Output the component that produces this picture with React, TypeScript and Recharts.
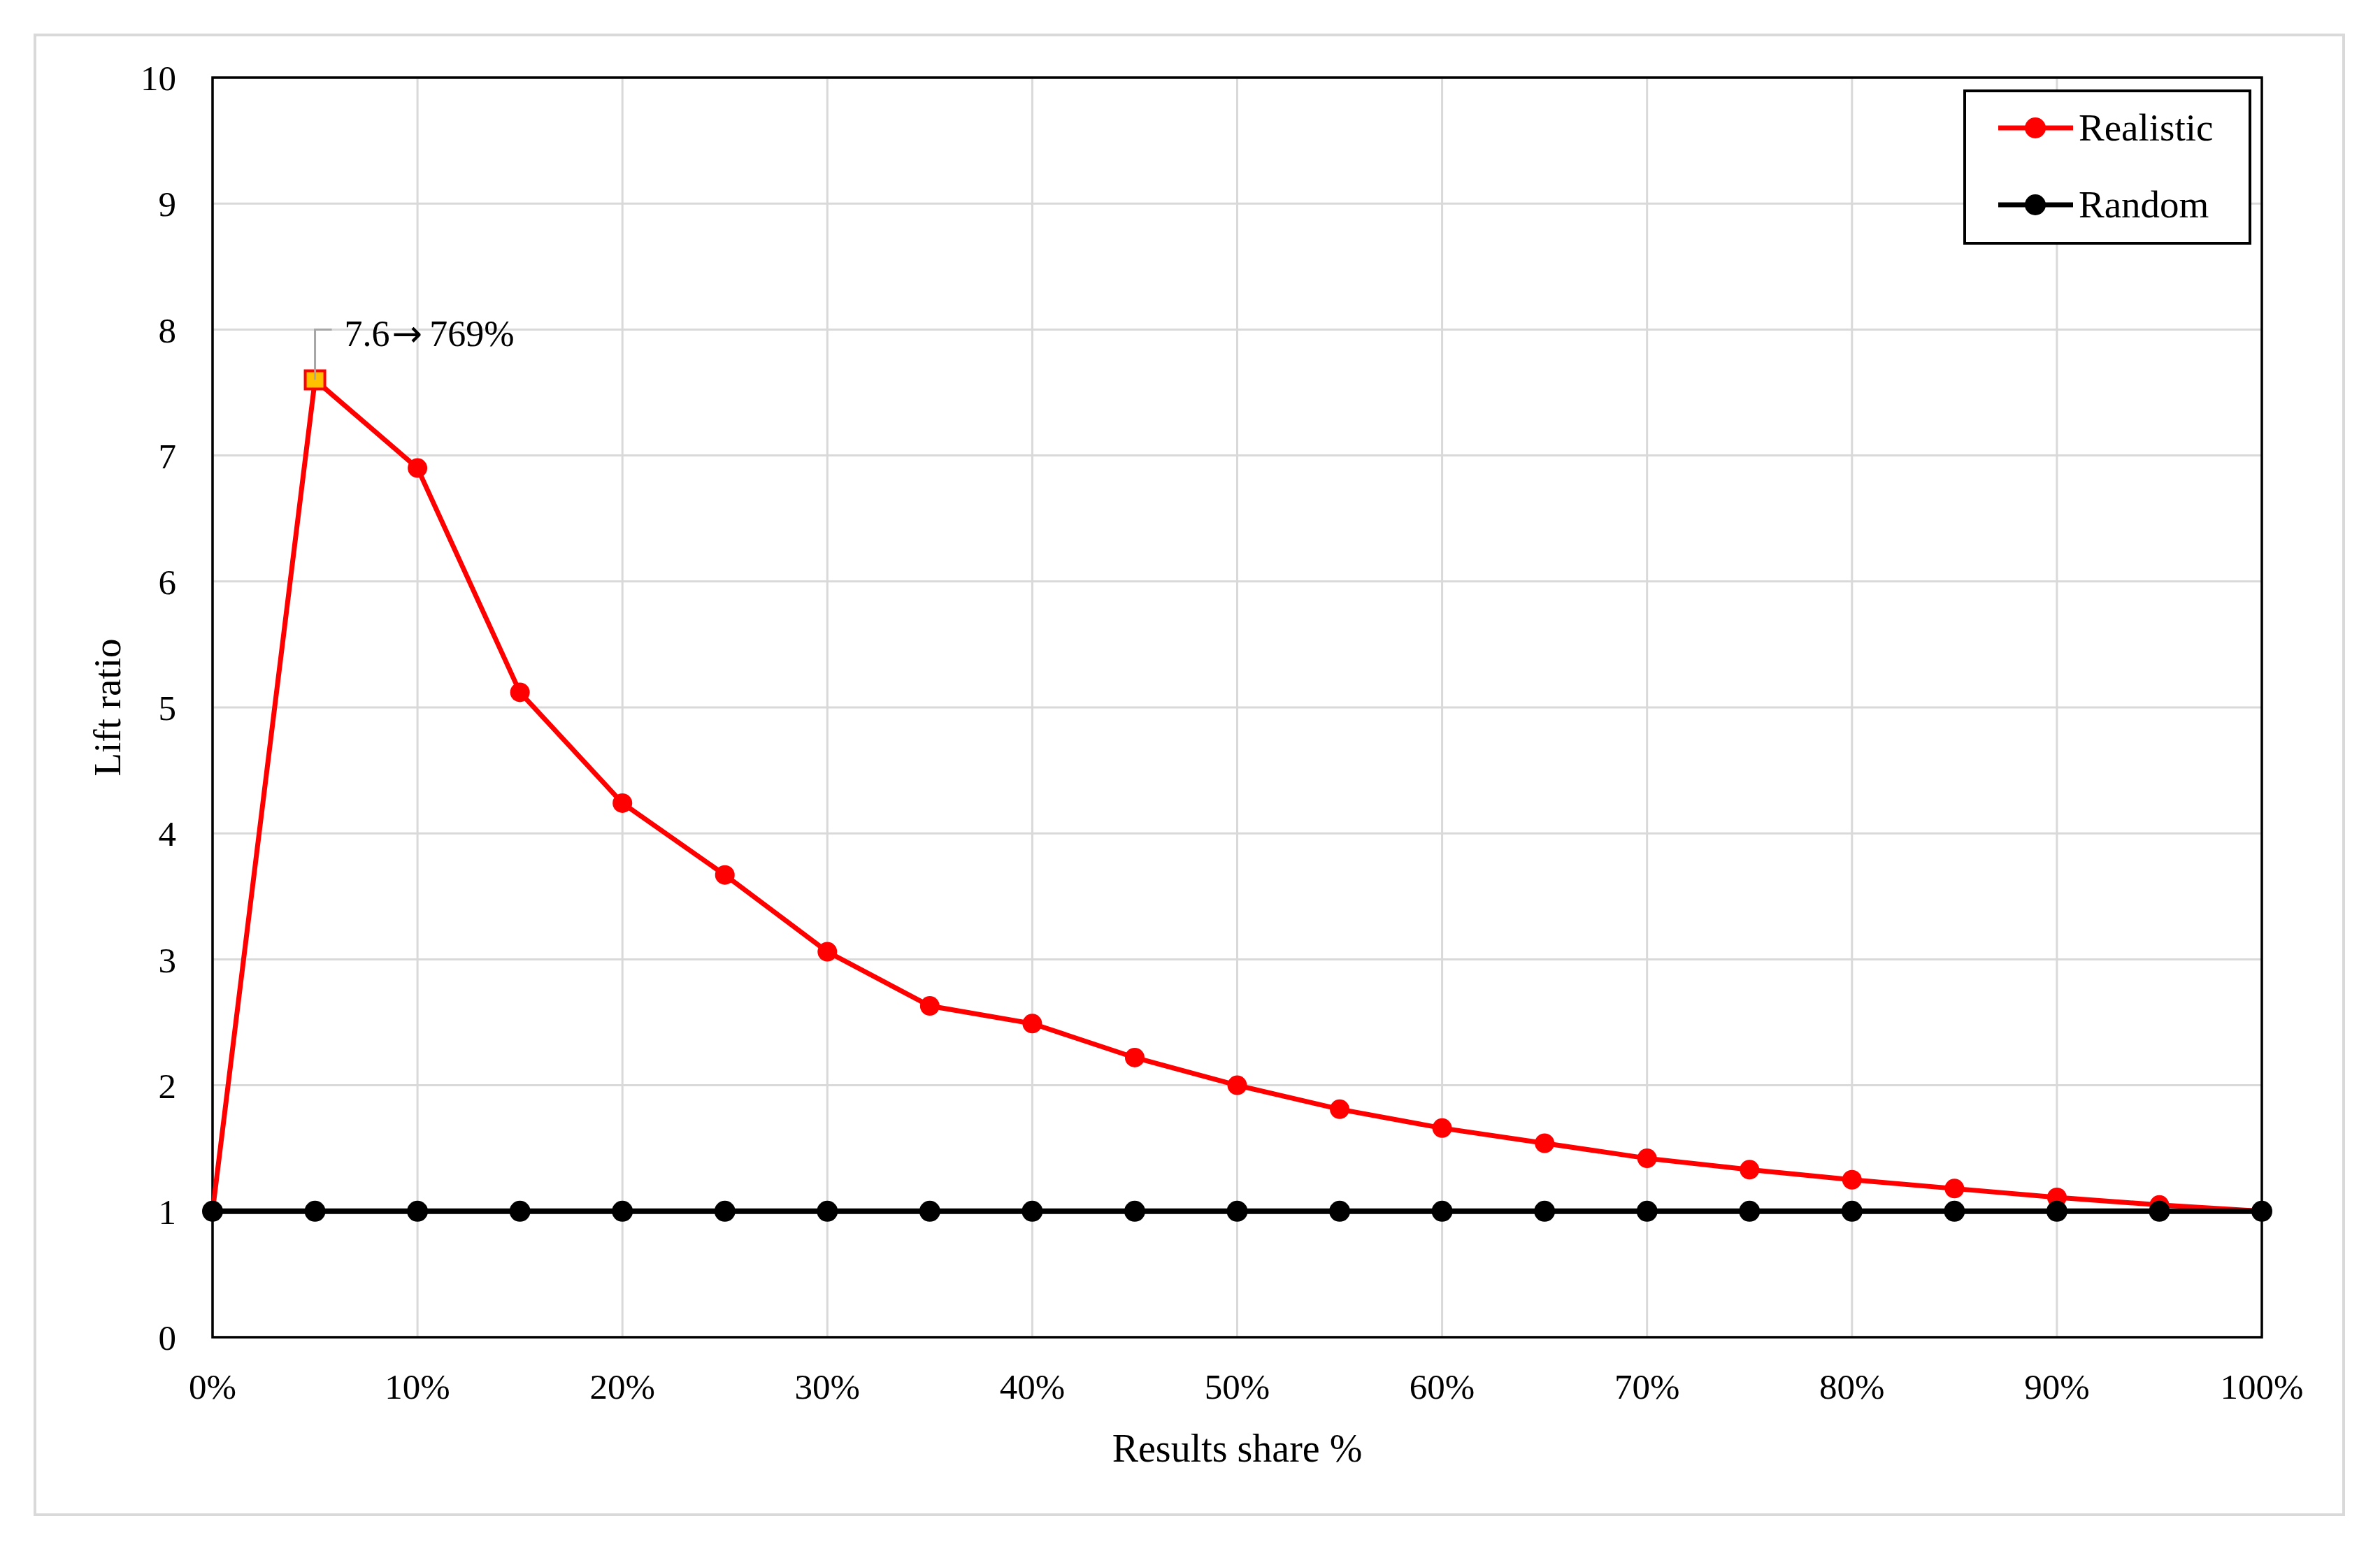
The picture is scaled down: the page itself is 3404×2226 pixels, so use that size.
import React from "react"
import { LineChart, Line, XAxis, YAxis, CartesianGrid, Legend, ReferenceArea } from "recharts"

const shares = [0, 5, 10, 15, 20, 25, 30, 35, 40, 45, 50, 55, 60, 65, 70, 75, 80, 85, 90, 95, 100]
const realistic = [1, 7.6, 6.9, 5.12, 4.24, 3.67, 3.06, 2.63, 2.49, 2.22, 2.0, 1.81, 1.66, 1.54, 1.42, 1.33, 1.25, 1.18, 1.11, 1.05, 1.0]
const random = [1, 1, 1, 1, 1, 1, 1, 1, 1, 1, 1, 1, 1, 1, 1, 1, 1, 1, 1, 1, 1]

const xTicks = [0, 10, 20, 30, 40, 50, 60, 70, 80, 90, 100]
const yTicks = [0, 1, 2, 3, 4, 5, 6, 7, 8, 9, 10]

const peakIndex = 1
const peakValue = "7.6"
const peakPercent = "769%"

const data = shares.map((s, i) => ({ share: s, realistic: realistic[i], random: random[i] }))

const FONT = "'Liberation Serif', 'Times New Roman', serif"
const RED = "#FF0000"
const GRID = "#D9D9D9"

function RealisticDot(props: any) {
  const { cx, cy, index } = props
  if (index === peakIndex) {
    return <rect key={`d-${index}`} x={cx - 14} y={cy - 13} width={28} height={26} fill="#FFC000" stroke={RED} strokeWidth={4} />
  }
  return <circle key={`d-${index}`} cx={cx} cy={cy} r={14} fill={RED} />
}

function PeakLabel(props: any) {
  const { x, y, index } = props
  if (index !== peakIndex) return <g />
  return (
    <g>
      <path d={`M ${x} ${y} V ${y - 72} H ${x + 24}`} stroke="#A6A6A6" strokeWidth={3} fill="none" />
      <text x={x + 42} y={y - 66} fontSize={52} fontFamily={FONT} fill="#000" dominantBaseline="central">
        {peakValue}
        <tspan dx={3} fontFamily="'DejaVu Sans'" fontSize={52}>{"\u2192"}</tspan>
        <tspan dx={10}>{peakPercent}</tspan>
      </text>
    </g>
  )
}

function LegendBox() {
  const rows = [
    { name: "Realistic", color: RED, top: 55 },
    { name: "Random", color: "#000", top: 165 },
  ]
  return (
    <div style={{ position: "relative", boxSizing: "border-box", width: 412, height: 222, border: "4px solid #000", background: "#fff" }}>
      {rows.map((r) => (
        <div key={r.name} style={{ position: "absolute", left: 0, top: r.top - 4 - 30, height: 60, display: "flex", alignItems: "center" }}>
          <svg width={161} height={60} style={{ display: "block" }}>
            <line x1={46} y1={30} x2={153} y2={30} stroke={r.color} strokeWidth={7} />
            <circle cx={99} cy={30} r={15} fill={r.color} />
          </svg>
          <span style={{ fontFamily: FONT, fontSize: 55, color: "#000", lineHeight: "60px" }}>{r.name}</span>
        </div>
      ))}
    </div>
  )
}

export default function App() {
  return (
    <div style={{ position: "absolute", left: 0, top: 0, width: 3404, height: 2226, background: "#fff" }}>
      <div style={{ position: "absolute", left: 48, top: 48, width: 3306, height: 2121, boxSizing: "border-box", border: "4px solid #D9D9D9" }} />
      <div style={{ position: "absolute", left: 0, top: 0 }}>
        <LineChart width={3404} height={2226} data={data} margin={{ top: 111, right: 169, left: 104, bottom: 113 }}>
          <CartesianGrid stroke={GRID} strokeWidth={3} />
          <XAxis
            dataKey="share"
            type="number"
            domain={[0, 100]}
            ticks={xTicks}
            interval={0}
            tickFormatter={(v: number) => `${v}%`}
            axisLine={false}
            tickLine={false}
            tickSize={0}
            tickMargin={52}
            height={200}
            tick={{ fill: "#000", fontSize: 51, fontFamily: FONT }}
            label={{ value: "Results share %", position: "insideBottom", offset: 22, fill: "#000", fontSize: 56, fontFamily: FONT }}
          />
          <YAxis
            type="number"
            domain={[0, 10]}
            ticks={yTicks}
            interval={0}
            axisLine={false}
            tickLine={false}
            tickSize={0}
            tickMargin={52}
            width={200}
            tick={{ fill: "#000", fontSize: 51, fontFamily: FONT }}
            label={{ value: "Lift ratio", angle: -90, position: "insideLeft", offset: 48, fill: "#000", fontSize: 55, fontFamily: FONT, style: { textAnchor: "middle" } }}
          />
          <ReferenceArea x1={0} x2={100} y1={0} y2={10} fill="none" fillOpacity={0} stroke="#000" strokeWidth={3.5} ifOverflow="visible" />
          <Legend
            layout="horizontal"
            verticalAlign="middle"
            align="center"
            content={() => <LegendBox />}
            wrapperStyle={{ position: "absolute", left: 2808, top: 128, width: 412, height: 222 }}
          />
          <Line
            type="linear"
            dataKey="realistic"
            name="Realistic"
            stroke={RED}
            strokeWidth={7}
            dot={RealisticDot}
            activeDot={false}
            label={PeakLabel}
            isAnimationActive={false}
          />
          <Line
            type="linear"
            dataKey="random"
            name="Random"
            stroke="#000"
            strokeWidth={8}
            dot={{ r: 15, fill: "#000", stroke: "none" }}
            activeDot={false}
            isAnimationActive={false}
          />
        </LineChart>
      </div>
    </div>
  )
}
